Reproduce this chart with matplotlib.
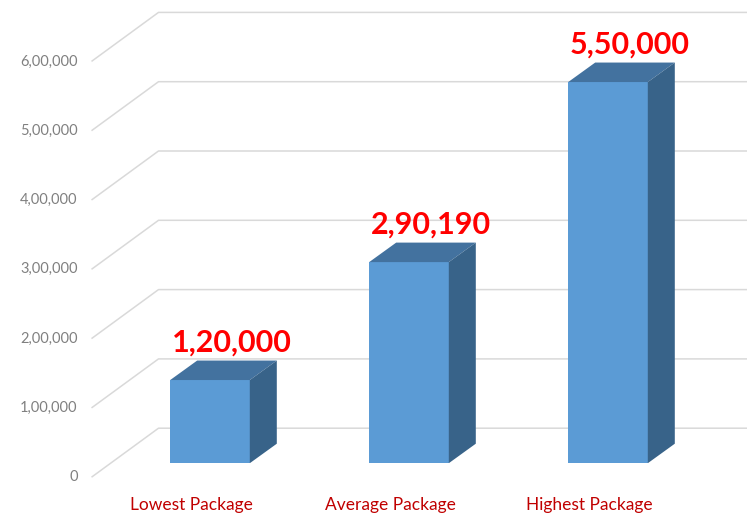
import numpy as np
import matplotlib
matplotlib.use("Agg")
import matplotlib.pyplot as plt
from matplotlib.patches import Polygon

# data
categories = ["Lowest Package", "Average Package", "Highest Package"]
values = [120000, 290190, 550000]
value_labels = ["1,20,000", "2,90,190", "5,50,000"]
yticks = [0, 100000, 200000, 300000, 400000, 500000, 600000]
ytick_labels = ["0", "1,00,000", "2,00,000", "3,00,000", "4,00,000", "5,00,000", "6,00,000"]

plt.rcParams['font.family'] = ['Lato', 'DejaVu Sans']

W, H, DPI = 747, 515, 100
fig = plt.figure(figsize=(W / DPI, H / DPI), dpi=DPI)

# plot area = plane of the bar fronts (pixels from top-left)
px0, px1 = 110.5, 707.5
py0, py1 = 463.2, 47.4
ax = fig.add_axes([px0 / W, (H - py0) / H, (px1 - px0) / W, (py0 - py1) / H])
ax.set_xlim(-0.5, 2.5)
ax.set_ylim(0, 600000)
ax.axis('off')

# pixel -> data helpers (y positive = up)
sx = 3.0 / (px1 - px0)
sy = 600000 / (py0 - py1)

bar_depth = (27, 19.5)   # px
front_off = (-19, -14)   # grid front edge, px
back_off = (48, 35)      # back wall, px

grid_col = '#d9d9d9'
front_col = '#5b9bd5'
top_col = '#43729f'
side_col = '#386389'

# gridlines: diagonal on the side + horizontal on the back wall
for v in yticks:
    fx, fy = -0.5 + front_off[0] * sx, v + front_off[1] * sy
    bx, by = -0.5 + back_off[0] * sx, v + back_off[1] * sy
    ax.plot([fx, bx, 3.2], [fy, by, by], color=grid_col, lw=1.1,
            zorder=1, clip_on=False, solid_capstyle='butt')

for v, lab in zip(yticks, ytick_labels):
    ax.text(-0.5 + (front_off[0] - 14) * sx, v + front_off[1] * sy, lab,
            ha='right', va='center', fontsize=10.5, color='#808080')

# 3d bars
x = np.arange(len(categories))
width = 0.4
dx, dy = bar_depth[0] * sx, bar_depth[1] * sy
ax.bar(x, values, width=width, color=front_col, zorder=3)
for xi, v in zip(x, values):
    l, r = xi - width / 2, xi + width / 2
    top = Polygon([(l, v), (r, v), (r + dx, v + dy), (l + dx, v + dy)],
                  closed=True, facecolor=top_col, edgecolor='none', zorder=3)
    side = Polygon([(r, 0), (r, v), (r + dx, v + dy), (r + dx, dy)],
                   closed=True, facecolor=side_col, edgecolor='none', zorder=3)
    ax.add_patch(top)
    ax.add_patch(side)

# value labels
for xi, v, lab in zip(x, values, value_labels):
    ax.text(xi + 22 * sx, v + dy + 9 * sy, lab, ha='center', va='baseline',
            fontsize=22, fontweight='bold', color='#ff0000', zorder=4)

# category labels
for xi, cat in zip(x, categories):
    ax.text(xi + front_off[0] * sx, (front_off[1] - 33) * sy, cat,
            ha='center', va='baseline', fontsize=12.5, color='#c00000')

fig.savefig('out.png', dpi=DPI)
